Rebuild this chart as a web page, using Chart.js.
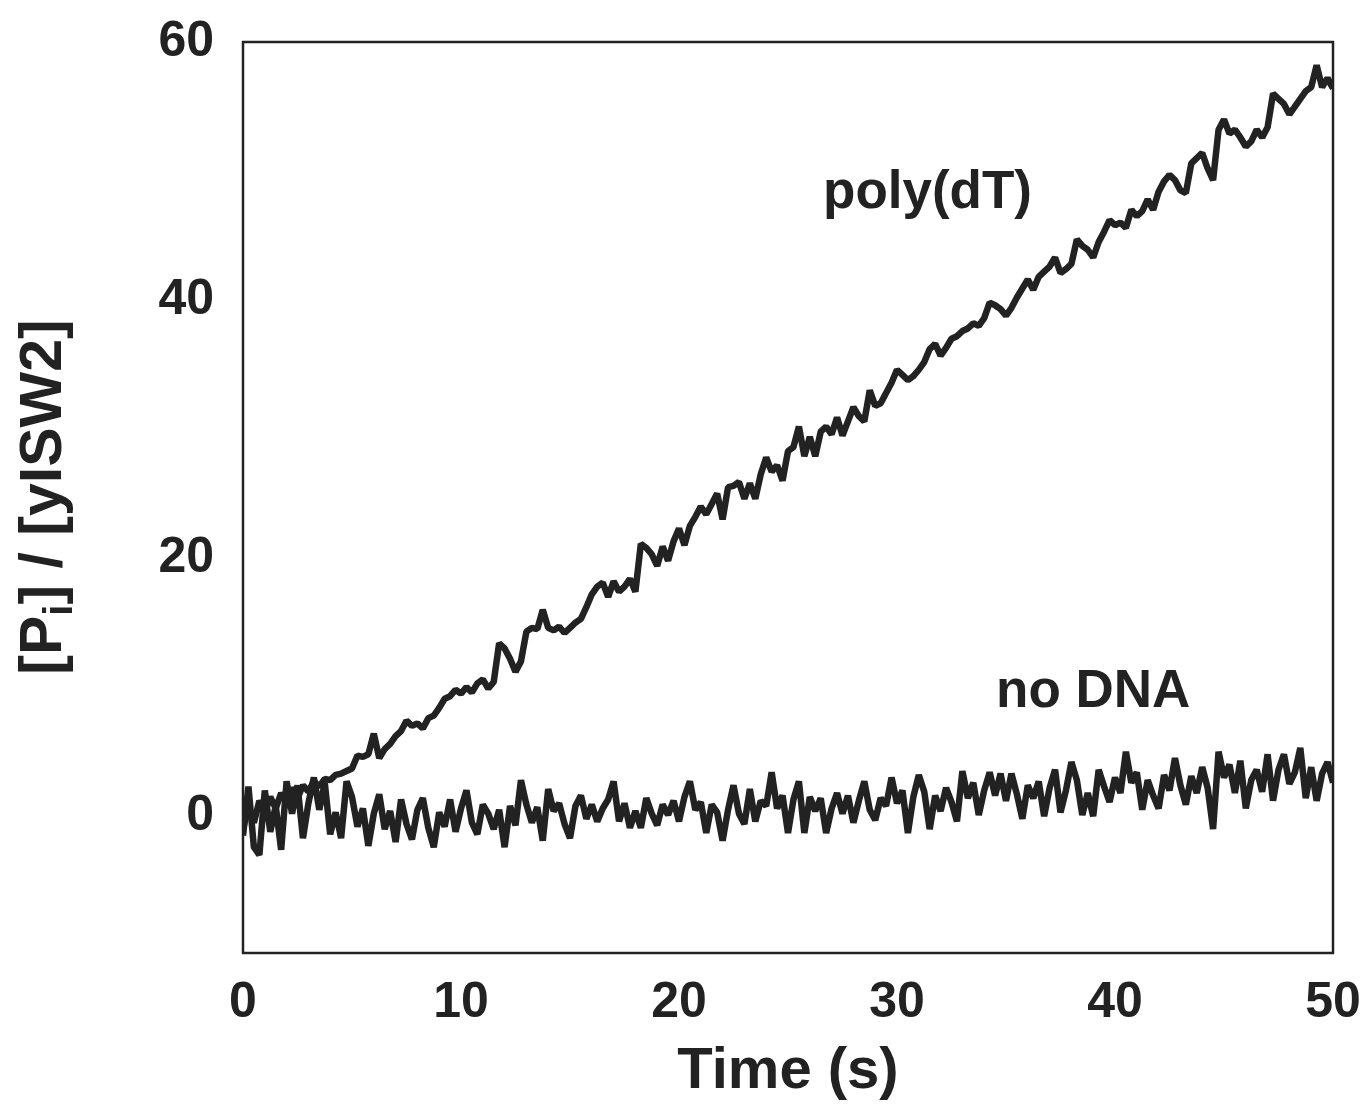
<!DOCTYPE html>
<html>
<head>
<meta charset="utf-8">
<script src="https://cdn.jsdelivr.net/npm/chart.js@4.4.1/dist/chart.umd.min.js"></script>
<style>
html, body { margin: 0; padding: 0; background: #fff; }
#wrap { width: 1363px; height: 1104px; }
</style>
</head>
<body>
<div id="wrap"><canvas id="kineticsChart"></canvas></div>
<script>
// readings every 0.25 s, from t = 0 to t = 50 s
var sampleStep = 0.25;

var polyDT = [
    -1.0, 0.8, -0.5, 1.2, 0.3, 1.5, 0.6, 1.8, 1.0, 2.2,
    1.4, 2.4, 1.9, 2.7, 2.3, 2.9, 2.8, 3.2, 3.3, 3.5,
    3.7, 4.7, 4.6, 4.8, 6.4, 4.5, 5.2, 5.6, 6.2, 6.6,
    7.4, 7.0, 7.2, 6.8, 7.6, 7.8, 8.4, 9.1, 9.3, 9.8,
    9.5, 10.0, 9.6, 10.3, 10.6, 9.9, 10.4, 13.4, 13.0, 12.2,
    11.2, 12.0, 14.3, 14.6, 14.5, 16.0, 14.6, 14.4, 14.7, 14.2,
    14.6, 15.0, 15.3, 16.2, 17.2, 17.8, 18.1, 17.0, 18.2, 17.4,
    17.8, 18.4, 17.4, 21.1, 20.8, 20.3, 19.4, 20.9, 19.8, 21.3,
    22.3, 21.0, 22.5, 23.2, 24.0, 23.4, 24.2, 25.0, 23.0, 25.5,
    25.6, 25.9, 24.6, 25.8, 24.6, 26.5, 27.8, 26.7, 27.2, 26.0,
    28.3, 28.6, 30.2, 27.9, 29.4, 27.9, 29.8, 30.2, 29.6, 30.9,
    29.5, 30.6, 31.7, 31.0, 30.6, 33.0, 31.8, 32.0, 32.8, 33.6,
    34.6, 34.2, 33.8, 34.1, 34.6, 35.2, 36.2, 36.6, 35.7, 36.3,
    37.0, 37.2, 37.6, 37.8, 38.2, 38.0, 38.6, 39.8, 39.6, 39.3,
    38.8, 39.4, 40.2, 40.9, 41.6, 40.8, 41.8, 42.2, 42.6, 43.3,
    42.1, 42.4, 42.8, 44.7, 44.2, 43.9, 43.3, 44.5, 45.3, 46.2,
    45.8, 46.0, 45.6, 47.0, 46.5, 46.9, 47.8, 47.0, 48.4, 49.2,
    49.7, 49.3, 48.5, 48.3, 50.6, 51.0, 51.4, 50.2, 49.3, 53.2,
    54.0, 52.9, 53.2, 52.6, 51.9, 52.3, 53.2, 52.6, 53.4, 56.0,
    55.6, 55.2, 54.4, 55.0, 55.6, 56.2, 56.5, 58.2, 56.5, 57.2,
    56.4
];

var noDNA = [
    -1.5, 2.3, -2.4, -3.0, 2.0, -1.2, 0.8, -2.6, 2.7, 0.2,
    2.4, -1.7, 1.0, 3.0, 0.5, 2.6, -1.4, 0.3, -1.7, 2.7,
    1.5, -0.8, 0.6, -2.3, 0.2, 1.7, -1.0, 0.4, -2.0, 1.3,
    -0.6, -1.8, 0.5, 1.4, -0.9, -2.4, 0.3, -0.8, 1.3, -1.2,
    0.6, 2.0, -0.5, -1.4, 0.9, 0.2, -1.0, 0.5, -2.4, 0.8,
    -0.7, 2.8, 0.9, -0.5, 0.7, -1.9, 2.1, 0.4, 1.0, -0.6,
    -1.7, 0.8, 1.6, -0.2, 0.9, -0.4, 0.6, 1.3, 2.7, -0.4,
    1.0, -0.9, 0.4, -0.9, 1.4, 0.2, -0.7, 0.9, 0.1, 1.2,
    -0.4, 1.5, 2.7, 0.5, 1.1, -1.3, 0.9, 0.3, -1.9, 0.5,
    2.4, 0.2, -0.6, 2.1, -0.4, 1.2, 0.8, 3.4, 0.6, 1.6,
    -1.3, 1.3, 2.7, -1.3, 1.5, 0.4, 1.4, -1.3, 0.6, 1.8,
    0.2, 1.6, -0.5, 1.2, 2.7, 0.5, -0.3, 1.4, 0.8, 3.0,
    1.0, 2.0, -1.3, 1.5, 3.2, 1.9, -1.0, 1.6, 0.4, 2.2,
    1.1, -0.4, 3.5, 1.4, 2.6, 0.1, 2.0, 3.4, 1.6, 3.3,
    1.2, 3.3, 1.7, -0.2, 2.4, 1.4, 2.7, 0.0, 2.2, 3.6,
    0.3, 2.0, 4.2, 2.8, 0.1, 1.8, 0.0, 3.6, 2.3, 1.1,
    3.0, 1.8, 5.0, 2.6, 3.4, 0.5, 2.8, 1.6, 0.6, 3.2,
    2.0, 4.5, 2.4, 0.9, 3.1, 1.8, 3.8, 2.2, -1.0, 5.0,
    3.0, 4.0, 1.8, 4.3, 0.6, 2.8, 3.6, 1.9, 4.8, 1.2,
    3.6, 4.8, 2.5, 3.4, 5.3, 1.4, 3.8, 1.2, 3.3, 4.2,
    2.6
];

var xTicks = [0, 10, 20, 30, 40, 50];
var yTicks = [0, 20, 40, 60];
var labelPoly = { text: "poly(dT)", t: 31.4, y: 48.3 };
var labelNoDNA = { text: "no DNA", t: 39.0, y: 9.6 };

var ink = "#222222";
var fontName = "'Liberation Sans', Arial, sans-serif";

function toPoints(values) {
    var pts = [];
    for (var i = 0; i < values.length; i++) {
        pts.push({ x: i * sampleStep, y: values[i] });
    }
    return pts;
}

// keep tick labels from pushing the plot area in
function noScalePadding(s) {
    s.paddingTop = 0;
    s.paddingBottom = 0;
    s.paddingLeft = 0;
    s.paddingRight = 0;
}

// frame, axis titles and curve labels
var decorations = {
    id: "decorations",
    afterDraw: function (chart) {
        var ctx = chart.ctx;
        var area = chart.chartArea;
        var xs = chart.scales.x, ys = chart.scales.y;
        ctx.save();
        ctx.strokeStyle = ink;
        ctx.lineWidth = 2.5;
        ctx.strokeRect(area.left, area.top, area.right - area.left, area.bottom - area.top);

        ctx.fillStyle = ink;
        ctx.font = "bold 53px " + fontName;
        ctx.textAlign = "center";
        ctx.textBaseline = "middle";
        [labelPoly, labelNoDNA].forEach(function (l) {
            ctx.fillText(l.text, xs.getPixelForValue(l.t), ys.getPixelForValue(l.y));
        });

        ctx.font = "bold 58px " + fontName;
        ctx.fillText("Time (s)", (area.left + area.right) / 2, 1072);

        // y title with subscript i
        var big = "bold 59px " + fontName, small = "bold 40px " + fontName;
        var parts = [["[P", big, 0], ["i", small, 16], ["] / [yISW2]", big, 0]];
        var total = 0;
        parts.forEach(function (p) { ctx.font = p[1]; total += ctx.measureText(p[0]).width; });
        ctx.translate(45, 497);
        ctx.rotate(-Math.PI / 2);
        ctx.textAlign = "left";
        ctx.textBaseline = "middle";
        var cx = -total / 2;
        parts.forEach(function (p) {
            ctx.font = p[1];
            ctx.fillText(p[0], cx, p[2]);
            cx += ctx.measureText(p[0]).width;
        });
        ctx.restore();
    }
};

var chart = new Chart(document.getElementById("kineticsChart"), {
    type: "line",
    data: {
        datasets: [{
            label: "poly(dT)",
            data: toPoints(polyDT),
            borderColor: ink,
            borderWidth: 6.5,
            borderJoinStyle: "bevel",
            pointRadius: 0,
            tension: 0
        }, {
            label: "no DNA",
            data: toPoints(noDNA),
            borderColor: ink,
            borderWidth: 6.5,
            borderJoinStyle: "bevel",
            pointRadius: 0,
            tension: 0
        }]
    },
    options: {
        responsive: true,
        maintainAspectRatio: false,
        animation: false,
        layout: { padding: { top: 42, right: 30, left: 0, bottom: 0 } },
        plugins: { legend: { display: false }, tooltip: { enabled: false } },
        scales: {
            x: {
                type: "linear",
                min: 0,
                max: 50,
                grid: { display: false, drawTicks: false },
                border: { display: false },
                afterBuildTicks: function (s) { s.ticks = xTicks.map(function (v) { return { value: v }; }); },
                afterFit: function (s) { s.height = 151; noScalePadding(s); },
                ticks: { color: ink, padding: 20, maxRotation: 0, font: { family: fontName, size: 50, weight: "bold" } }
            },
            y: {
                type: "linear",
                min: -10.6,
                max: 60,
                grid: { display: false, drawTicks: false },
                border: { display: false },
                afterBuildTicks: function (s) { s.ticks = yTicks.map(function (v) { return { value: v }; }); },
                afterFit: function (s) { s.width = 243; noScalePadding(s); },
                ticks: { color: ink, padding: 29, font: { family: fontName, size: 50, weight: "bold" } }
            }
        }
    },
    plugins: [decorations]
});
</script>
</body>
</html>
